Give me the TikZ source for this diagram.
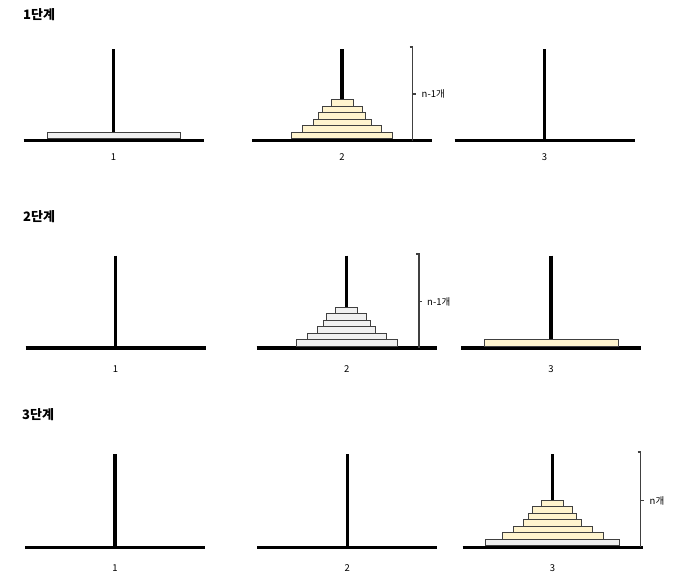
\documentclass[tikz,border=0pt]{standalone}
\usepackage{fontspec}
\setmainfont{Noto Sans CJK KR}
\usetikzlibrary{positioning}
\definecolor{diskyellow}{RGB}{255,244,206}
\definecolor{diskgrey}{RGB}{240,240,240}
\definecolor{edgegrey}{RGB}{64,64,64}

\begin{document}
\begin{tikzpicture}[x=1pt,y=-1pt,
    floorline/.style={line width=3.5pt},
    pegline/.style={line width=3.2pt},
    disk/.style={draw=edgegrey,line width=0.9pt},
    bracket/.style={draw=edgegrey,line width=1.3pt},
    steptitle/.style={anchor=west,inner sep=0pt,font=\fontsize{13}{15}\selectfont\bfseries},
    pegnum/.style={inner sep=0pt,font=\fontsize{9.5}{11}\selectfont},
    sizelabel/.style={anchor=west,inner sep=0pt,font=\fontsize{9.5}{11}\selectfont}]
    \useasboundingbox (0,0) rectangle (674,578);

    % 1단계
    \node[steptitle] (t1) at (23,15) {1단계};
    \foreach \cx/\n in {113.5/1,342/2,544.5/3} {
      \draw[pegline] (\cx,49.5) -- (\cx,140.5);
      \draw[floorline] ({\cx-90},140.5) -- ({\cx+90},140.5);
      \node[pegnum] (r1n\n) at (\cx,157) {\n};
    }
    \draw[disk,fill=diskgrey] (47,132.25) rectangle (180,138.75);
    \foreach \w [count=\i] in {50.5,39.5,29,23.7,20,11}
      \draw[disk,fill=diskyellow] ({342-\w},{138.75-6.5*\i}) rectangle ({342+\w},{138.75-6.5*(\i-1)});
    \draw[bracket] (409.7,47) -- (412.7,47) -- (412.7,140.5);
    \draw[bracket] (412.7,94) -- (415.7,94);
    \node[sizelabel] (r1cnt) at (421.5,94) {n-1개};

    % 2단계
    \node[steptitle] (t2) at (23,216.5) {2단계};
    \foreach \cx/\n in {115.5/1,346.7/2,551/3} {
      \draw[pegline] (\cx,255.5) -- (\cx,348);
      \draw[floorline] ({\cx-90},348) -- ({\cx+90},348);
      \node[pegnum] (r2n\n) at (\cx,369) {\n};
    }
    \foreach \w [count=\i] in {50.5,39.5,29,23.7,20,11}
      \draw[disk,fill=diskgrey] ({346.7-\w},{346.25-6.5*\i}) rectangle ({346.7+\w},{346.25-6.5*(\i-1)});
    \draw[disk,fill=diskyellow] (484.3,339.75) rectangle (618,346.25);
    \draw[bracket] (416,254) -- (419,254) -- (419,348);
    \draw[bracket] (419,301.7) -- (422,301.7);
    \node[sizelabel] (r2cnt) at (427,301.7) {n-1개};

    % 3단계
    \node[steptitle] (t3) at (22,415) {3단계};
    \foreach \cx/\n in {115/1,347.3/2,552.5/3} {
      \draw[pegline] (\cx,454) -- (\cx,547.3);
      \draw[floorline] ({\cx-90},547.3) -- ({\cx+90},547.3);
      \node[pegnum] (r3n\n) at (\cx,568) {\n};
    }
    \foreach \w/\c [count=\i] in {67/diskgrey,50.5/diskyellow,39.5/diskyellow,29/diskyellow,
        23.7/diskyellow,20/diskyellow,11/diskyellow}
      \draw[disk,fill=\c] ({552.5-\w},{545.55-6.5*\i}) rectangle ({552.5+\w},{545.55-6.5*(\i-1)});
    \draw[bracket] (637.7,452) -- (640.7,452) -- (640.7,547.3);
    \draw[bracket] (640.7,500.7) -- (643.7,500.7);
    \node[sizelabel] (r3cnt) at (649.5,500.7) {n개};
\end{tikzpicture}
\end{document}
